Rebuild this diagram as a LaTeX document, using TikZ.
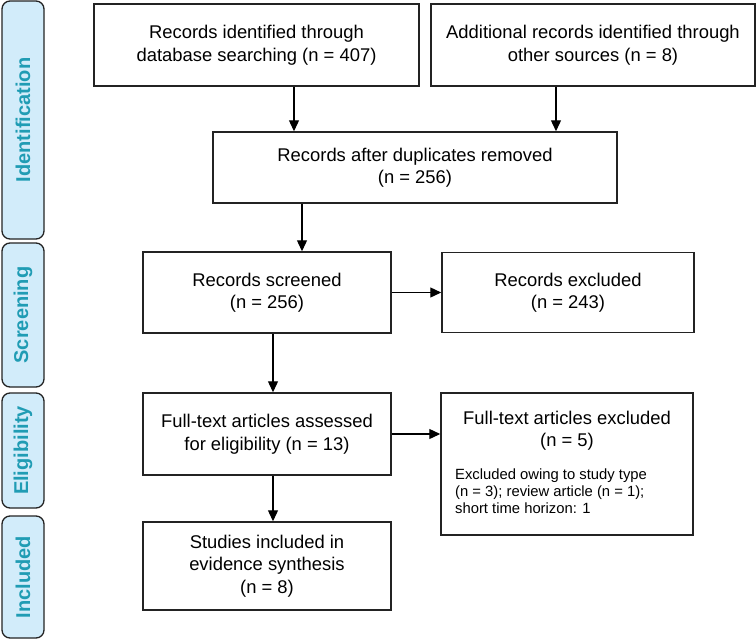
\documentclass[tikz,border=0pt]{standalone}
\usepackage{fontspec}
\setmainfont{Liberation Sans}
\usetikzlibrary{arrows.meta}
\definecolor{stagefill}{RGB}{210,236,250}
\definecolor{stagetext}{RGB}{32,156,180}
\definecolor{boxline}{RGB}{35,35,35}

\begin{document}
\begin{tikzpicture}[x=1pt,y=-1pt,
  box/.style={draw=boxline,line width=1.5pt,inner sep=0pt,align=center,font=\fontsize{18.4}{22.5}\selectfont},
  stage/.style={draw=boxline,line width=1.3pt,fill=stagefill,rounded corners=8pt,rotate=90,minimum height=42pt,inner sep=0pt,text=stagetext,font=\fontsize{20}{24}\selectfont\bfseries},
  arr/.style={line width=1.3pt,-{Triangle[length=11pt,width=10pt]}}]
\useasboundingbox (0,0) rectangle (756,641);

\node[stage,minimum width=238pt] (ident) at (23,120) {Identification};
\node[stage,minimum width=144pt] (screen) at (23,315) {Screening};
\node[stage,minimum width=115pt] (elig) at (23,450.5) {Eligibility};
\node[stage,minimum width=122pt] (incl) at (23,577) {Included};

\node[box,minimum width=325pt,minimum height=82pt] (dbrec) at (256.5,45) {Records identified through\\database searching (n = 407)};
\node[box,minimum width=324pt,minimum height=82pt] (othrec) at (593,45) {Additional records identified through\\other sources (n = 8)};
\node[box,minimum width=404pt,minimum height=71pt] (dup) at (415,167.5) {Records after duplicates removed\\(n = 256)};
\node[box,minimum width=248pt,minimum height=81pt] (scr) at (267,292.5) {Records screened\\(n = 256)};
\node[box,minimum width=252pt,minimum height=80pt] (excl) at (568,292.5) {Records excluded\\(n = 243)};
\node[box,minimum width=248pt,minimum height=82pt] (fta) at (267,434) {Full-text articles assessed\\for eligibility (n = 13)};
\node[box,minimum width=252pt,minimum height=142pt] (ftex) at (567,464) {};
\node[box,draw=none,anchor=north] (ftextitle) at (567,410) {Full-text articles excluded\\(n = 5)};
\node[anchor=north west,inner sep=0pt,align=left,font=\fontsize{14.8}{17}\selectfont] (ftexwhy) at (455,469) {Excluded owing to study type\\(n = 3); review article (n = 1);\\short time horizon: 1};
\node[box,minimum width=248pt,minimum height=88pt] (incstud) at (267,566) {Studies included in\\evidence synthesis\\(n = 8)};

\draw[arr] ([xshift=37.5pt]dbrec.south) -- ([xshift=37.5pt]dbrec.south |- dup.north);
\draw[arr] ([xshift=-37pt]othrec.south) -- ([xshift=-37pt]othrec.south |- dup.north);
\draw[arr] ([xshift=35pt]scr.north |- dup.south) -- ([xshift=35pt]scr.north);
\draw[arr] (scr.east) -- (scr.east -| excl.west);
\draw[arr] ([xshift=6pt]scr.south) -- ([xshift=6pt]fta.north);
\draw[arr] (fta.east) -- (fta.east -| ftex.west);
\draw[arr] ([xshift=6pt]fta.south) -- ([xshift=6pt]incstud.north);
\end{tikzpicture}
\end{document}
